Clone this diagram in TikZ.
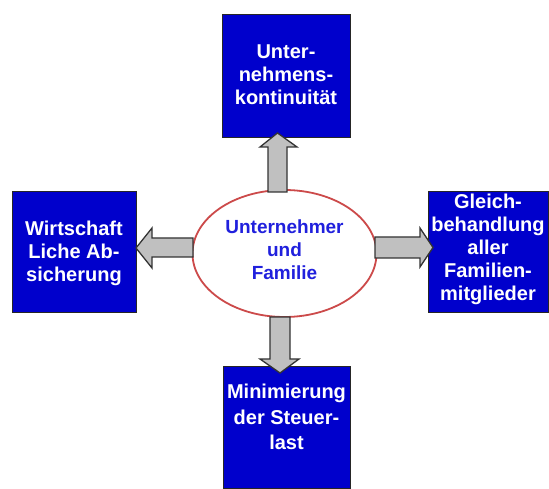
\documentclass[tikz,border=0pt]{standalone}
\usepackage{fontspec}
\setmainfont{Liberation Sans}
\usetikzlibrary{shapes.geometric}
\definecolor{boxblue}{HTML}{0000CC}
\definecolor{txtblue}{HTML}{2020DD}
\definecolor{ellred}{HTML}{CC4A4A}
\definecolor{argrey}{HTML}{C0C0C0}
\definecolor{ardark}{HTML}{333333}
\tikzset{
  bluebox/.style={draw=black!85, line width=1pt, fill=boxblue, inner sep=0pt},
  boxtext/.style={text=white, font=\bfseries\fontsize{20}{23}\selectfont, align=center, inner sep=0pt},
  blockarrow/.style={draw=ardark, fill=argrey, line width=1.3pt, line join=miter},
  centerell/.style={ellipse, draw=ellred, line width=1.8pt, fill=white, inner sep=0pt},
  elltext/.style={text=txtblue, font=\bfseries\fontsize{19}{23}\selectfont, align=center, inner sep=0pt}
}
\begin{document}
\begin{tikzpicture}[x=1pt,y=1pt]
\useasboundingbox (0,0) rectangle (549,489);
% boxes
\node[bluebox, minimum width=128pt, minimum height=123pt] (top) at (286,412.5) {};
\node[boxtext] (toptext) at (286,414) {Unter-\\nehmens-\\kontinuität};
\node[bluebox, minimum width=124pt, minimum height=121pt] (left) at (74,236.5) {};
\node[boxtext] (lefttext) at (74,236) {Wirtschaft\\Liche Ab-\\sicherung};
\node[bluebox, minimum width=120pt, minimum height=121pt] (right) at (488,236.5) {};
\node[boxtext] (righttext) at (488,239.5) {Gleich-\\behandlung\\aller\\Familien-\\mitglieder};
\node[bluebox, minimum width=127pt, minimum height=122pt] (bottom) at (286.5,61) {};
\node[boxtext, font=\bfseries\fontsize{20}{25.5}\selectfont] (bottomtext) at (286.5,72) {Minimierung\\der Steuer-\\last};
% center ellipse
\node[centerell, minimum width=184pt, minimum height=127pt] (ell) at (284.5,235.5) {};
\node[elltext] (elltxt) at (284.5,239) {Unternehmer\\und\\Familie};
% block arrows
\draw[blockarrow] (268,297) -- (268,342) -- (260,342) -- (277.5,356) -- (297,342) -- (287,342) -- (287,297) -- cycle;
\draw[blockarrow] (193,251) -- (152,251) -- (152,261) -- (136,241) -- (152,221) -- (152,232) -- (193,232) -- cycle;
\draw[blockarrow] (375,252) -- (420,252) -- (420,261) -- (433,241.5) -- (420,222) -- (420,231) -- (375,231) -- cycle;
\draw[blockarrow] (270,172) -- (270,130) -- (260,130) -- (280,116) -- (299,130) -- (290,130) -- (290,172) -- cycle;
\end{tikzpicture}
\end{document}
